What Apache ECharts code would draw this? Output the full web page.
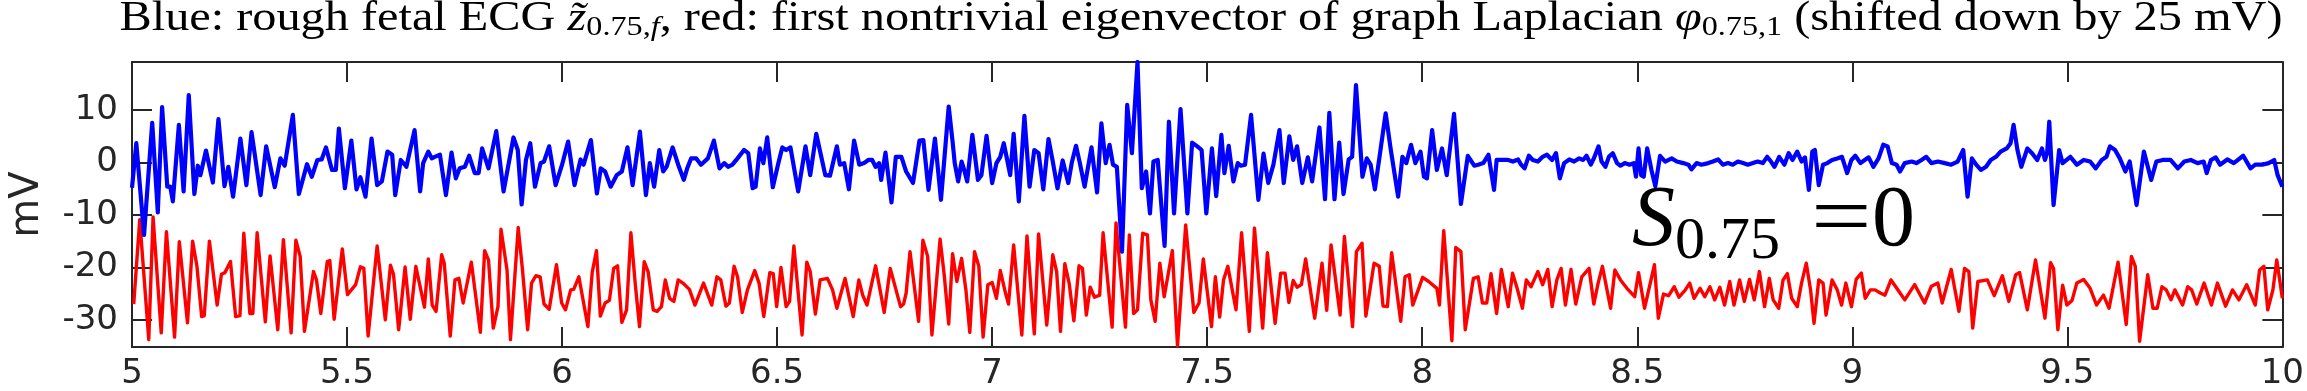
<!DOCTYPE html>
<html><head><meta charset="utf-8">
<script src="https://cdn.jsdelivr.net/npm/echarts@6.0.0/dist/echarts.min.js"></script>
<style>html,body{margin:0;padding:0;background:#fff}#c{width:2307px;height:391px}</style>
</head><body><div id="c"></div>
<script>
// ---- data: [time (s), mV] ----
const blue5 = [[5.000,-4.8],[5.010,3.7],[5.028,-13.8],[5.047,7.6],[5.060,-9.5],[5.070,10.6],[5.082,-4.6],[5.089,-4.6],[5.095,-7.4],[5.109,7.2],[5.120,-5.5],[5.132,12.9],[5.145,-6.0],[5.153,-0.6],[5.159,-2.4],[5.172,2.3],[5.188,-3.8],[5.201,8.3],[5.215,-4.5],[5.224,-0.8],[5.235,-6.5],[5.252,4.6],[5.266,-4.3],[5.278,5.8],[5.299,-6.2],[5.312,3.1],[5.332,-4.7],[5.345,0.8],[5.355,-0.6],[5.374,9.1],[5.388,-6.0],[5.407,-0.3],[5.418,-2.7],[5.431,0.5],[5.441,0.6],[5.451,2.9],[5.465,-1.4],[5.474,-1.4],[5.481,6.5],[5.495,-4.9],[5.510,4.2],[5.522,-5.1],[5.531,-2.8],[5.543,-6.5],[5.557,4.6],[5.570,-4.3],[5.581,-3.6],[5.594,2.1],[5.605,1.5],[5.612,-6.2],[5.625,0.5],[5.638,-0.8],[5.657,6.2],[5.670,-5.5],[5.677,-0.1],[5.689,2.1],[5.697,0.8],[5.704,1.1],[5.716,1.5],[5.730,-6.2],[5.743,1.9],[5.753,-3.0],[5.762,-1.1],[5.774,-0.8],[5.784,1.3],[5.797,-2.0],[5.806,-2.0],[5.814,2.7],[5.829,-1.1],[5.847,6.0],[5.864,-5.5],[5.887,4.8],[5.897,2.4],[5.906,-8.0],[5.916,0.5],[5.926,3.7],[5.937,-4.6],[5.950,-0.1],[5.958,0.2],[5.970,3.1],[5.985,-4.3],[6.000,-0.4]];
const blue6 = [[6.014,4.0],[6.029,-4.3],[6.043,0.6],[6.050,-0.4],[6.067,4.3],[6.081,-5.9],[6.090,-1.1],[6.100,-1.7],[6.113,-4.6],[6.127,-2.4],[6.139,-1.7],[6.152,2.9],[6.164,-4.3],[6.181,5.9],[6.195,-6.2],[6.204,-0.1],[6.214,-4.6],[6.226,2.4],[6.235,-1.7],[6.243,-0.8],[6.257,2.9],[6.270,-0.4],[6.283,-3.3],[6.291,-1.1],[6.300,0.8],[6.312,0.8],[6.323,-0.4],[6.339,0.8],[6.353,4.2],[6.366,-1.1],[6.377,-0.1],[6.386,-0.8],[6.396,-0.4],[6.408,0.8],[6.423,2.4],[6.433,1.8],[6.443,-4.9],[6.450,-4.6],[6.460,2.7],[6.468,-0.1],[6.477,4.8],[6.490,-4.7],[6.502,-0.4],[6.512,2.9],[6.521,2.4],[6.531,2.9],[6.549,-5.5],[6.566,3.1],[6.577,-2.4],[6.591,5.5],[6.612,-2.4],[6.623,-2.5],[6.639,3.1],[6.646,-0.4],[6.656,-0.1],[6.667,-5.1],[6.679,4.2],[6.691,-0.4],[6.702,-0.1],[6.712,0.5],[6.721,0.5],[6.729,-0.8],[6.737,-0.1],[6.742,-3.3],[6.752,1.9],[6.766,-7.6],[6.776,1.1],[6.789,1.1],[6.800,-1.7],[6.816,-3.9],[6.831,4.2],[6.840,4.3],[6.852,-5.2],[6.867,4.6],[6.881,-7.1],[6.899,10.7],[6.908,4.0],[6.913,-0.1],[6.921,-3.6],[6.929,0.2],[6.935,-1.4],[6.942,-3.6],[6.954,5.3],[6.967,-3.3],[6.975,-2.4],[6.987,5.1],[7.000,-3.9]];
const blue7 = [[7.010,-0.1],[7.019,1.1],[7.027,3.7],[7.035,0.5],[7.042,-2.4],[7.050,5.5],[7.062,-7.4],[7.075,8.9],[7.087,-4.6],[7.098,2.4],[7.108,1.8],[7.119,-5.1],[7.131,4.5],[7.141,0.2],[7.152,-4.9],[7.164,0.4],[7.177,-3.9],[7.185,-0.1],[7.195,3.2],[7.204,-0.1],[7.215,-4.6],[7.231,2.9],[7.244,-5.7],[7.254,7.5],[7.264,-0.1],[7.273,3.4],[7.281,-0.4],[7.290,-0.8],[7.302,-17.0],[7.314,11.0],[7.325,1.8],[7.338,19.2],[7.348,-4.9],[7.358,-1.7],[7.367,-9.7],[7.375,0.2],[7.385,0.5],[7.401,-15.9],[7.411,7.8],[7.423,-9.7],[7.438,10.2],[7.454,-9.7],[7.465,3.8],[7.477,3.1],[7.487,2.4],[7.498,-9.7],[7.511,2.7],[7.521,-6.4],[7.533,5.3],[7.540,-2.0],[7.550,3.2],[7.561,-3.6],[7.571,-0.1],[7.578,-0.6],[7.588,-0.4],[7.602,9.1],[7.619,-7.1],[7.631,1.7],[7.642,-3.9],[7.654,-0.4],[7.668,6.2],[7.678,-3.9],[7.691,5.0],[7.700,0.5],[7.709,3.1],[7.721,-3.9],[7.734,1.0],[7.744,-3.6],[7.761,6.7],[7.774,-7.0],[7.784,9.5],[7.796,-7.0],[7.807,3.8],[7.817,-6.0],[7.829,0.6],[7.837,1.1],[7.846,14.8],[7.861,-2.7],[7.871,0.8],[7.880,-0.4],[7.890,-5.1],[7.915,9.4],[7.927,2.4],[7.944,-6.5],[7.954,1.1],[7.963,-0.1],[7.974,3.4],[7.984,-0.1],[7.996,2.1]];
const blue8 = [[8.004,-2.7],[8.011,-3.0],[8.023,6.2],[8.034,-1.4],[8.046,2.7],[8.057,-2.4],[8.074,9.3],[8.090,-7.9],[8.106,1.3],[8.121,-0.6],[8.130,-0.4],[8.142,-0.1],[8.154,1.5],[8.167,-5.2],[8.173,0.5],[8.188,0.5],[8.200,0.5],[8.211,0.2],[8.223,0.6],[8.230,-0.4],[8.238,-1.1],[8.248,1.3],[8.257,0.5],[8.269,0.2],[8.280,1.1],[8.290,1.5],[8.302,0.5],[8.311,1.8],[8.320,-3.0],[8.330,-0.1],[8.342,0.6],[8.353,0.2],[8.365,0.8],[8.374,0.5],[8.382,1.3],[8.392,-0.4],[8.399,0.8],[8.410,3.1],[8.417,0.2],[8.426,-0.8],[8.434,1.1],[8.443,1.8],[8.453,-0.1],[8.461,-0.6],[8.471,-0.1],[8.482,-0.4],[8.492,-0.1],[8.497,-2.7],[8.503,2.7],[8.509,-2.4],[8.515,-2.7],[8.523,2.7],[8.533,-1.4],[8.542,-4.5],[8.553,1.3],[8.565,0.2],[8.580,0.8],[8.592,0.2],[8.607,-0.1],[8.619,-0.4],[8.626,-1.3],[8.638,-0.1],[8.649,-0.4],[8.665,-0.1],[8.676,0.2],[8.688,0.6],[8.699,-0.4],[8.711,-0.1],[8.722,-0.4],[8.734,0.2],[8.746,-0.1],[8.757,-0.4],[8.769,-0.1],[8.780,0.2],[8.792,-0.1],[8.802,1.1],[8.811,0.2],[8.819,-0.8],[8.830,1.1],[8.842,-0.4],[8.852,1.8],[8.861,0.5],[8.872,2.1],[8.882,0.2],[8.890,1.0],[8.899,-5.2],[8.907,2.1],[8.913,2.4],[8.922,-4.3],[8.932,-0.4],[8.942,-0.1],[8.953,0.5],[8.965,0.8],[8.976,1.1],[8.988,-2.0],[8.998,0.5]];
const blue9 = [[9.007,1.3],[9.019,-0.1],[9.029,0.5],[9.038,1.0],[9.049,-0.8],[9.061,0.8],[9.072,3.4],[9.082,3.1],[9.092,-0.1],[9.103,-0.4],[9.111,-1.7],[9.122,-0.1],[9.138,0.2],[9.149,-0.1],[9.161,0.5],[9.172,1.1],[9.184,-0.1],[9.199,0.2],[9.215,-0.1],[9.230,-0.4],[9.245,0.2],[9.258,2.4],[9.268,-6.5],[9.278,0.8],[9.288,-0.4],[9.299,-1.4],[9.311,-0.8],[9.322,0.5],[9.334,1.1],[9.345,2.1],[9.359,2.7],[9.368,3.7],[9.375,7.2],[9.384,2.4],[9.393,-0.8],[9.407,2.7],[9.418,1.8],[9.430,0.5],[9.441,2.7],[9.448,0.5],[9.453,1.8],[9.458,7.8],[9.468,-8.1],[9.481,2.4],[9.489,-0.1],[9.507,1.1],[9.522,-0.4],[9.538,0.5],[9.553,0.2],[9.566,-1.1],[9.580,0.5],[9.591,1.1],[9.599,3.1],[9.611,2.4],[9.622,0.8],[9.635,-1.7],[9.645,0.2],[9.661,-8.1],[9.678,2.1],[9.695,-3.3],[9.707,0.2],[9.722,0.5],[9.740,0.5],[9.757,-1.1],[9.772,0.2],[9.787,0.5],[9.803,-0.1],[9.817,0.2],[9.824,-2.0],[9.834,0.5],[9.845,1.0],[9.855,-0.4],[9.872,0.6],[9.887,-0.1],[9.909,1.3],[9.926,-1.1],[9.937,-0.4],[9.953,-0.4],[9.968,-0.1],[9.981,0.5],[9.989,-2.4],[10.000,-4.6]];

const red5 = [[5.004,-27.0],[5.018,-10.9],[5.039,-33.8],[5.049,-10.4],[5.068,-32.5],[5.080,-13.2],[5.099,-33.3],[5.110,-15.1],[5.129,-30.6],[5.141,-15.0],[5.151,-19.8],[5.162,-29.4],[5.168,-29.2],[5.180,-15.0],[5.198,-27.2],[5.208,-21.3],[5.216,-21.0],[5.229,-18.9],[5.241,-29.4],[5.251,-29.2],[5.260,-13.5],[5.274,-28.8],[5.281,-28.8],[5.291,-13.4],[5.310,-30.4],[5.321,-17.8],[5.339,-31.9],[5.352,-14.7],[5.370,-32.5],[5.381,-14.8],[5.391,-17.9],[5.401,-32.2],[5.422,-20.8],[5.429,-22.4],[5.439,-28.8],[5.454,-18.9],[5.460,-18.7],[5.470,-29.9],[5.489,-16.5],[5.501,-25.2],[5.520,-23.3],[5.531,-19.9],[5.539,-20.2],[5.549,-33.1],[5.570,-15.9],[5.589,-30.0],[5.601,-19.6],[5.608,-21.3],[5.620,-31.9],[5.635,-19.9],[5.647,-29.9],[5.660,-19.8],[5.680,-27.6],[5.689,-18.4],[5.698,-27.2],[5.707,-28.4],[5.720,-17.6],[5.726,-19.2],[5.740,-33.1],[5.751,-22.4],[5.760,-22.1],[5.770,-26.8],[5.789,-19.0],[5.810,-32.4],[5.820,-16.8],[5.829,-18.6],[5.840,-31.6],[5.851,-27.5],[5.858,-12.7],[5.872,-20.5],[5.880,-33.8],[5.898,-12.4],[5.908,-20.5],[5.920,-31.9],[5.929,-23.0],[5.939,-21.6],[5.949,-21.8],[5.958,-27.0],[5.970,-28.0],[5.987,-19.5],[5.999,-26.8]];
const red6 = [[6.008,-28.1],[6.020,-24.3],[6.027,-24.2],[6.039,-21.8],[6.060,-31.3],[6.070,-21.0],[6.080,-16.8],[6.089,-29.3],[6.100,-26.8],[6.110,-26.3],[6.120,-20.2],[6.129,-19.7],[6.139,-30.5],[6.150,-28.1],[6.160,-13.4],[6.170,-23.0],[6.180,-31.3],[6.191,-18.9],[6.200,-20.8],[6.212,-28.1],[6.221,-28.4],[6.231,-27.5],[6.240,-22.4],[6.250,-25.9],[6.260,-26.5],[6.270,-22.4],[6.281,-23.0],[6.296,-24.2],[6.309,-27.2],[6.329,-23.0],[6.348,-27.2],[6.360,-21.8],[6.369,-22.4],[6.381,-27.4],[6.389,-26.8],[6.400,-19.8],[6.408,-21.8],[6.419,-28.6],[6.431,-24.3],[6.448,-20.6],[6.458,-23.0],[6.469,-29.4],[6.483,-21.0],[6.491,-21.2],[6.499,-27.5],[6.509,-20.0],[6.521,-27.5],[6.529,-26.5],[6.539,-15.9],[6.558,-32.9],[6.569,-19.0],[6.577,-20.8],[6.589,-28.9],[6.600,-22.4],[6.617,-22.1],[6.629,-24.3],[6.639,-27.8],[6.658,-22.1],[6.677,-29.4],[6.690,-22.4],[6.699,-25.3],[6.709,-27.2],[6.729,-19.7],[6.749,-28.6],[6.763,-20.2],[6.787,-27.5],[6.794,-27.0],[6.800,-24.9],[6.809,-17.0],[6.829,-30.3],[6.839,-14.8],[6.850,-17.9],[6.860,-32.9],[6.879,-14.6],[6.889,-21.8],[6.899,-30.8],[6.908,-17.4],[6.918,-22.7],[6.929,-18.3],[6.939,-24.3],[6.948,-32.4],[6.959,-17.0],[6.969,-19.8],[6.979,-33.3],[6.990,-23.3],[7.000,-22.9]];
const red7 = [[7.010,-25.9],[7.019,-20.6],[7.031,-24.9],[7.038,-27.0],[7.050,-15.7],[7.069,-32.9],[7.081,-14.0],[7.098,-32.7],[7.108,-13.6],[7.127,-31.0],[7.141,-17.6],[7.150,-20.8],[7.159,-32.2],[7.169,-19.3],[7.179,-23.0],[7.190,-30.2],[7.202,-19.7],[7.210,-20.2],[7.219,-29.1],[7.228,-23.8],[7.238,-25.7],[7.250,-25.3],[7.258,-13.4],[7.279,-31.4],[7.288,-11.5],[7.310,-31.4],[7.319,-13.8],[7.329,-28.8],[7.338,-28.1],[7.350,-13.5],[7.361,-13.8],[7.369,-26.2],[7.379,-30.3],[7.390,-19.2],[7.400,-25.6],[7.419,-16.8],[7.431,-35.0],[7.450,-11.9],[7.469,-28.6],[7.481,-26.8],[7.491,-18.4],[7.510,-31.3],[7.519,-21.8],[7.529,-29.5],[7.538,-22.4],[7.548,-19.8],[7.567,-28.1],[7.580,-13.4],[7.598,-32.2],[7.610,-12.5],[7.629,-31.6],[7.640,-17.2],[7.658,-30.7],[7.671,-21.1],[7.681,-21.1],[7.690,-26.7],[7.700,-22.5],[7.709,-23.8],[7.719,-23.3],[7.729,-18.4],[7.750,-29.7],[7.767,-19.2],[7.778,-28.2],[7.788,-15.7],[7.809,-29.1],[7.819,-14.1],[7.838,-31.3],[7.847,-17.0],[7.860,-15.4],[7.869,-29.3],[7.888,-19.2],[7.900,-19.8],[7.909,-27.4],[7.919,-27.5],[7.929,-17.2],[7.950,-30.3],[7.960,-21.8],[7.970,-21.4],[7.978,-27.2]];
const red8 = [[8.001,-21.9],[8.015,-22.7],[8.034,-24.0],[8.040,-27.2],[8.050,-13.0],[8.069,-34.0],[8.078,-16.2],[8.090,-17.0],[8.100,-31.9],[8.119,-22.1],[8.130,-21.8],[8.140,-26.8],[8.150,-26.8],[8.160,-21.2],[8.173,-28.8],[8.184,-20.4],[8.200,-27.5],[8.210,-21.1],[8.220,-23.8],[8.233,-27.8],[8.242,-22.4],[8.253,-23.7],[8.269,-20.8],[8.280,-23.3],[8.292,-20.4],[8.302,-27.5],[8.313,-22.4],[8.323,-20.2],[8.333,-27.2],[8.346,-20.4],[8.357,-27.0],[8.371,-21.8],[8.388,-20.2],[8.399,-27.0],[8.409,-23.0],[8.419,-19.8],[8.438,-27.8],[8.448,-20.5],[8.461,-22.4],[8.476,-24.0],[8.494,-25.6],[8.503,-21.0],[8.517,-27.8],[8.540,-19.5],[8.549,-29.7],[8.561,-25.1],[8.573,-25.4],[8.586,-23.7],[8.597,-25.7],[8.611,-24.4],[8.622,-23.0],[8.632,-25.9],[8.646,-24.0],[8.657,-25.6],[8.669,-23.7],[8.680,-26.2],[8.692,-23.8],[8.703,-27.2],[8.715,-22.7],[8.725,-27.2],[8.738,-22.4],[8.749,-26.5],[8.761,-22.3],[8.772,-26.2],[8.784,-20.8],[8.796,-27.5],[8.807,-22.1],[8.816,-26.2],[8.829,-27.8],[8.839,-22.4],[8.849,-21.2],[8.859,-25.9],[8.872,-27.5],[8.882,-23.0],[8.893,-19.2],[8.903,-24.3],[8.911,-30.7],[8.922,-22.4],[8.932,-23.0],[8.939,-29.1],[8.953,-22.4],[8.965,-24.3],[8.975,-27.2],[8.985,-23.0],[8.998,-27.5]];
const red9 = [[9.009,-22.3],[9.021,-21.1],[9.030,-25.9],[9.042,-24.3],[9.053,-24.3],[9.065,-24.9],[9.076,-25.3],[9.090,-22.4],[9.101,-23.7],[9.111,-24.9],[9.122,-26.2],[9.145,-23.3],[9.168,-26.8],[9.184,-23.6],[9.199,-23.0],[9.209,-26.8],[9.230,-20.4],[9.248,-28.4],[9.261,-20.2],[9.271,-20.8],[9.280,-31.6],[9.292,-22.7],[9.314,-22.4],[9.330,-25.4],[9.349,-21.6],[9.364,-26.5],[9.380,-21.4],[9.389,-21.0],[9.407,-28.1],[9.426,-18.6],[9.448,-29.7],[9.461,-19.1],[9.468,-20.2],[9.478,-31.9],[9.489,-23.4],[9.499,-27.2],[9.511,-26.3],[9.522,-23.0],[9.538,-22.3],[9.553,-24.0],[9.568,-27.2],[9.584,-25.3],[9.597,-27.8],[9.618,-19.0],[9.637,-30.9],[9.649,-17.9],[9.658,-19.8],[9.668,-34.1],[9.687,-21.4],[9.699,-27.8],[9.709,-27.8],[9.720,-23.7],[9.730,-24.3],[9.741,-26.2],[9.750,-24.3],[9.768,-27.2],[9.780,-23.7],[9.789,-24.3],[9.801,-27.0],[9.818,-23.0],[9.835,-27.2],[9.849,-23.0],[9.868,-27.4],[9.884,-24.3],[9.899,-26.2],[9.917,-23.3],[9.937,-27.2],[9.947,-20.5],[9.957,-19.8],[9.966,-28.1],[9.978,-24.3],[9.987,-18.6],[10.000,-25.9]];

const xRange = [5, 10];
const yRange = [-35.2, 19.2];
const yLabelValues = [-30, -20, -10, 0, 10];

const bluePts = [].concat(blue5, blue6, blue7, blue8, blue9);
const redPts = [].concat(red5, red6, red7, red8, red9);

const axisColor = '#262626';
const tickFont = {fontFamily: 'DejaVu Sans', fontSize: 34, color: axisColor};
const lineS = {color: axisColor, width: 2};
const tickS = {inside: true, length: 20, lineStyle: {color: axisColor, width: 2}};
const serif = 'Liberation Serif';

const chart = echarts.init(document.getElementById('c'), null, {renderer: 'canvas'});
const yFmt = v => yLabelValues.some(t => Math.abs(t - v) < 1e-6) ? String(Math.round(v)) : '';

chart.setOption({
  animation: false,
  backgroundColor: '#ffffff',
  grid: {left: 118, right: 22, top: 62, bottom: 44, containLabel: false},
  xAxis: [
    {type: 'value', min: xRange[0], max: xRange[1], interval: 0.5, position: 'bottom',
     axisLine: {show: true, onZero: false, lineStyle: lineS}, axisTick: tickS,
     axisLabel: Object.assign({margin: 10}, tickFont), splitLine: {show: false}},
    {type: 'value', min: xRange[0], max: xRange[1], interval: 0.5, position: 'top',
     axisLine: {show: true, onZero: false, lineStyle: lineS}, axisTick: tickS,
     axisLabel: {show: false}, splitLine: {show: false}}
  ],
  yAxis: [
    {type: 'value', min: yRange[0], max: yRange[1], splitNumber: 5, position: 'left',
     name: 'mV', nameLocation: 'middle', nameGap: 84, nameRotate: 90,
     nameTextStyle: {fontFamily: 'DejaVu Sans', fontSize: 40, color: axisColor},
     axisLine: {show: true, onZero: false, lineStyle: lineS}, axisTick: tickS,
     axisLabel: Object.assign({margin: 14, formatter: yFmt, showMinLabel: false, showMaxLabel: false}, tickFont),
     splitLine: {show: false}},
    {type: 'value', min: yRange[0], max: yRange[1], splitNumber: 5, position: 'right',
     axisLine: {show: true, onZero: false, lineStyle: lineS}, axisTick: tickS,
     axisLabel: {show: false}, splitLine: {show: false}}
  ],
  graphic: [
    {type: 'text', x: 1201, y: -4, scaleX: 1.15, z: 10,
     style: {
       text: '{a|Blue: rough fetal ECG }{i|z\u0303}{s|0.75,}{si|f}{a|, red: first nontrivial eigenvector of graph Laplacian }{i|\u03c6}{s|0.75,1}{a| (shifted down by 25 mV)}',
       align: 'center', verticalAlign: 'top',
       rich: {
         a: {fontFamily: serif, fontSize: 42, lineHeight: 46, fill: '#000'},
         i: {fontFamily: serif, fontStyle: 'italic', fontSize: 42, lineHeight: 46, fill: '#000'},
         s: {fontFamily: serif, fontSize: 28, lineHeight: 26, verticalAlign: 'bottom', fill: '#000'},
         si: {fontFamily: serif, fontStyle: 'italic', fontSize: 28, lineHeight: 26, verticalAlign: 'bottom', fill: '#000'}
       }
     }},
    {type: 'text', x: 1632, y: 172, z: 10,
     style: {
       text: '{S|S}{b|0.75}',
       align: 'left', verticalAlign: 'top',
       rich: {
         S: {fontFamily: serif, fontStyle: 'italic', fontSize: 86, lineHeight: 100, fill: '#000'},
         b: {fontFamily: serif, fontSize: 60, lineHeight: 60, verticalAlign: 'bottom', fill: '#000'}
       }
     }},
    {type: 'text', x: 1811, y: 172, scaleX: 1.25, z: 10,
     style: {text: '{e|=}', align: 'left', verticalAlign: 'top',
       rich: {e: {fontFamily: serif, fontSize: 86, lineHeight: 100, fill: '#000'}}}},
    {type: 'text', x: 1872, y: 172, z: 10,
     style: {text: '{e|0}', align: 'left', verticalAlign: 'top',
       rich: {e: {fontFamily: serif, fontSize: 86, lineHeight: 100, fill: '#000'}}}}
  ],
  series: [
    {type: 'line', name: 'red', data: redPts, xAxisIndex: 0, yAxisIndex: 0, showSymbol: false, symbol: 'none',
     lineStyle: {color: '#ff0000', width: 3.4, join: 'round'}, clip: true, z: 2},
    {type: 'line', name: 'blue', data: bluePts, xAxisIndex: 0, yAxisIndex: 0, showSymbol: false, symbol: 'none',
     lineStyle: {color: '#0000ff', width: 4.2, join: 'round'}, clip: true, z: 3}
  ]
});
</script>
</body></html>
